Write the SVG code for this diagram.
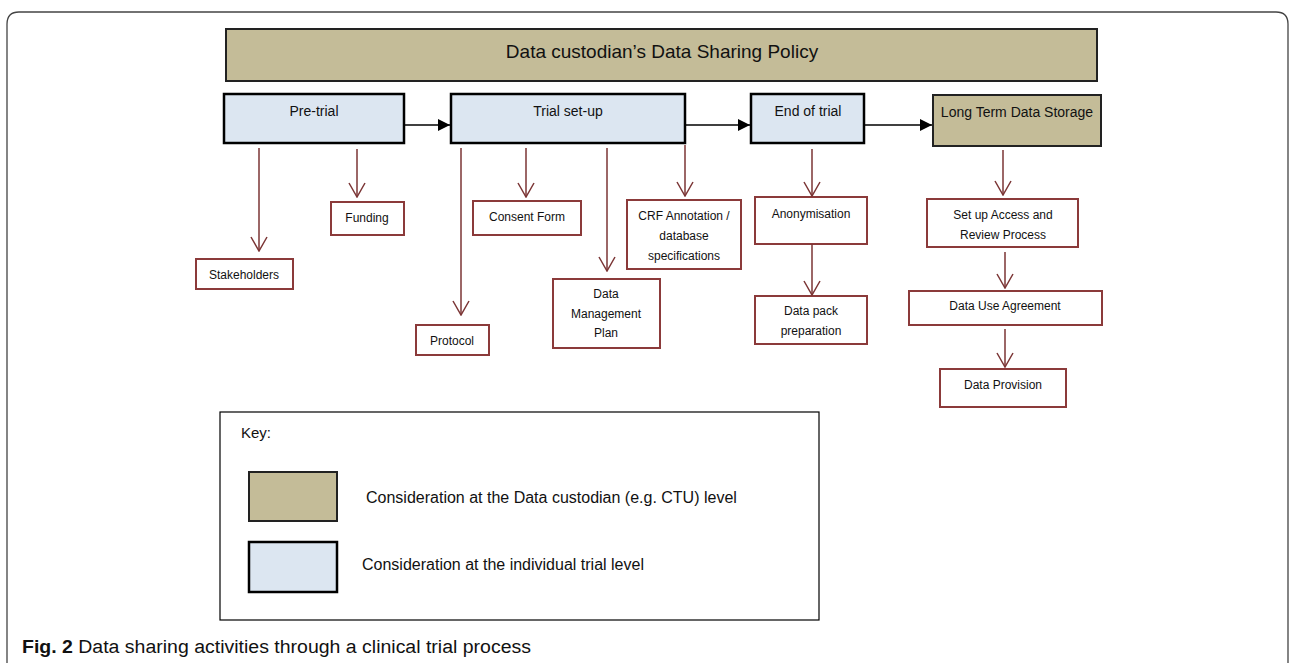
<svg xmlns="http://www.w3.org/2000/svg" width="1290" height="663" viewBox="0 0 1290 663">
<style>
text{font-family:"Liberation Sans","DejaVu Sans",sans-serif;fill:#111;text-anchor:middle}
.tan{fill:#c4bc98;stroke:#222;stroke-width:2}
.blue{fill:#dce6f1;stroke:#000;stroke-width:2.5}
.red{fill:#fff;stroke:#8b3a3a;stroke-width:2}
.s{font-size:12px}
.m{font-size:14px}
.c{stroke:#7b3535;stroke-width:1.5;fill:none;marker-end:url(#v)}
.b{stroke:#000;stroke-width:1.5;fill:none;marker-end:url(#t)}
</style>
<defs>
<marker id="v" viewBox="0 0 16 18" refX="15" refY="9" markerWidth="16" markerHeight="18" markerUnits="userSpaceOnUse" orient="auto">
<path d="M1,1 L15,9 L1,17" fill="none" stroke="#7b3535" stroke-width="1.5"/>
</marker>
<marker id="t" viewBox="0 0 12 12" refX="12" refY="6" markerWidth="12" markerHeight="12" markerUnits="userSpaceOnUse" orient="auto">
<path d="M0,0 L12,6 L0,12 Z" fill="#000"/>
</marker>
</defs>
<rect width="1290" height="663" fill="#fff"/>
<path d="M7,700 L7,24 Q7,12 19,12 L1276,12 Q1288,12 1288,24 L1288,700" fill="none" stroke="#444" stroke-width="1.3"/>

<g id="policy"><rect class="tan" x="226" y="29" width="871" height="52"/><text x="662" y="58" font-size="19">Data custodian’s Data Sharing Policy</text></g>
<g id="pretrial"><rect class="blue" x="224" y="94" width="180" height="49"/><text class="m" x="314" y="116">Pre-trial</text></g>
<g id="setup"><rect class="blue" x="451" y="94" width="234" height="49"/><text class="m" x="568" y="116">Trial set-up</text></g>
<g id="endtrial"><rect class="blue" x="751" y="94" width="113" height="49"/><text class="m" x="808" y="116">End of trial</text></g>
<g id="ltds"><rect class="tan" x="933" y="95" width="168" height="51"/><text class="m" x="1017" y="117">Long Term Data Storage</text></g>

<g id="stakeholders"><rect class="red" x="196" y="259" width="97" height="30"/><text class="s" x="244" y="279">Stakeholders</text></g>
<g id="funding"><rect class="red" x="331" y="202" width="73" height="33"/><text class="s" x="367" y="222">Funding</text></g>
<g id="protocol"><rect class="red" x="416" y="325" width="73" height="30"/><text class="s" x="452" y="345">Protocol</text></g>
<g id="consent"><rect class="red" x="473" y="201" width="108" height="34"/><text class="s" x="527" y="221">Consent Form</text></g>
<g id="dmp"><rect class="red" x="553" y="279" width="107" height="69"/><text class="s" x="606" y="298">Data</text><text class="s" x="606" y="318">Management</text><text class="s" x="606" y="337">Plan</text></g>
<g id="crf"><rect class="red" x="627" y="200" width="114" height="69"/><text class="s" x="684" y="220">CRF Annotation /</text><text class="s" x="684" y="240">database</text><text class="s" x="684" y="260">specifications</text></g>
<g id="anon"><rect class="red" x="755" y="197" width="112" height="47"/><text class="s" x="811" y="218">Anonymisation</text></g>
<g id="datapack"><rect class="red" x="755" y="296" width="112" height="48"/><text class="s" x="811" y="315">Data pack</text><text class="s" x="811" y="335">preparation</text></g>
<g id="access"><rect class="red" x="927" y="199" width="151" height="48"/><text class="s" x="1003" y="219">Set up Access and</text><text class="s" x="1003" y="239">Review Process</text></g>
<g id="dua"><rect class="red" x="909" y="291" width="193" height="34"/><text class="s" x="1005" y="310">Data Use Agreement</text></g>
<g id="provision"><rect class="red" x="940" y="369" width="126" height="38"/><text class="s" x="1003" y="389">Data Provision</text></g>

<g id="connectors">
<path class="b" d="M404,125 L450,125"/>
<path class="b" d="M685,125 L750,125"/>
<path class="b" d="M864,125 L932,125"/>
<path class="c" d="M259,148 L259,251"/>
<path class="c" d="M357,149 L357,197"/>
<path class="c" d="M461,148 L461,315"/>
<path class="c" d="M526,148 L526,197"/>
<path class="c" d="M607,148 L607,271"/>
<path class="c" d="M685,145 L685,196"/>
<path class="c" d="M812,149 L812,196"/>
<path class="c" d="M812,244 L812,295"/>
<path class="c" d="M1003,150 L1003,195"/>
<path class="c" d="M1005,252 L1005,288"/>
<path class="c" d="M1005,329 L1005,367"/>
</g>

<g id="key">
<rect x="220" y="412" width="599" height="208" fill="#fff" stroke="#000" stroke-width="1.2"/>
<text x="241" y="438" font-size="15" style="text-anchor:start">Key:</text>
<rect class="tan" x="249" y="472" width="88" height="49"/>
<text x="366" y="503" font-size="16" style="text-anchor:start">Consideration at the Data custodian (e.g. CTU) level</text>
<rect class="blue" x="249" y="542" width="88" height="50" stroke-width="2"/>
<text x="362" y="570" font-size="16" style="text-anchor:start">Consideration at the individual trial level</text>
</g>

<g id="caption">
<text x="22" y="653" font-size="18" style="text-anchor:start;font-family:'Liberation Sans Narrow','Liberation Sans',sans-serif" fill="#222" textLength="509" lengthAdjust="spacingAndGlyphs"><tspan font-weight="bold">Fig. 2</tspan> Data sharing activities through a clinical trial process</text>
</g>
</svg>
